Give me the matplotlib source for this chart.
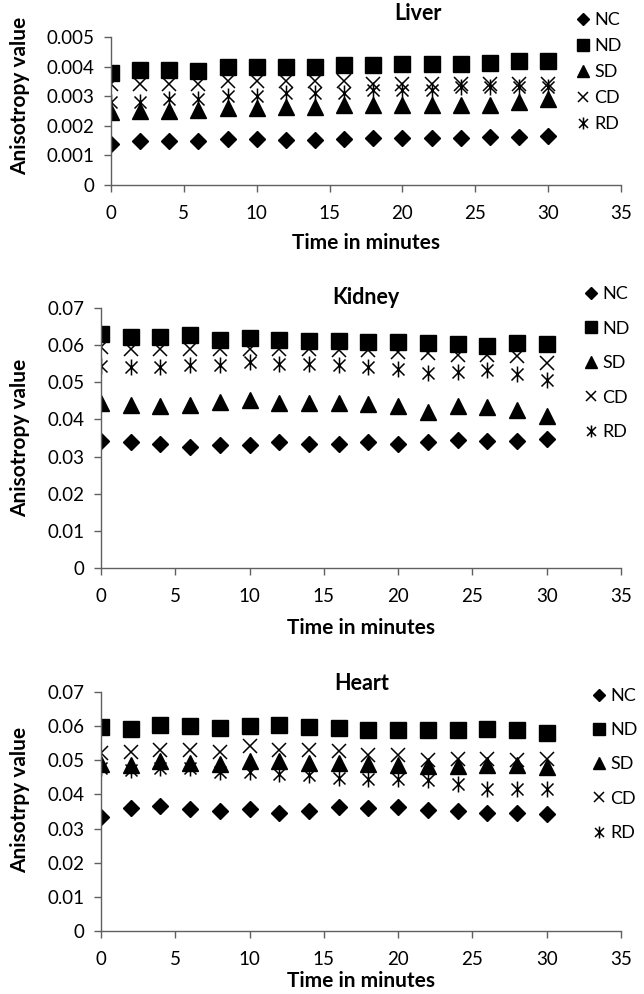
import matplotlib
matplotlib.use('Agg')
import matplotlib.pyplot as plt
from matplotlib.path import Path

plt.rcParams['font.family'] = ['Lato', 'DejaVu Sans']

# time points (minutes)
minutes = [0, 2, 4, 6, 8, 10, 12, 14, 16, 18, 20, 22, 24, 26, 28, 30]
groups = ['NC', 'ND', 'SD', 'CD', 'RD']

# Liver anisotropy
liver_nc = [0.0014, 0.00147, 0.0015, 0.0015, 0.00157, 0.00157, 0.00153, 0.00153,
            0.00157, 0.00158, 0.00158, 0.0016, 0.0016, 0.00162, 0.00162, 0.00165]
liver_nd = [0.0038, 0.0039, 0.0039, 0.00385, 0.004, 0.004, 0.004, 0.004,
            0.00405, 0.00405, 0.00408, 0.0041, 0.0041, 0.00412, 0.0042, 0.0042]
liver_sd = [0.00245, 0.0025, 0.0025, 0.00255, 0.0026, 0.0026, 0.00265, 0.00265,
            0.0027, 0.0027, 0.0027, 0.0027, 0.0027, 0.0027, 0.0028, 0.0029]
liver_cd = [0.0034, 0.0034, 0.0034, 0.0034, 0.0035, 0.0035, 0.0035, 0.0035,
            0.0035, 0.0034, 0.0034, 0.0034, 0.0034, 0.0034, 0.0034, 0.0034]
liver_rd = [0.0028, 0.0028, 0.0029, 0.0029, 0.003, 0.003, 0.0031, 0.0031,
            0.0031, 0.0032, 0.0032, 0.0032, 0.0033, 0.0033, 0.0033, 0.0033]

# Kidney anisotropy
kidney_nc = [0.0343, 0.0339, 0.0334, 0.0327, 0.0331, 0.0331, 0.0339, 0.0334,
             0.0334, 0.0339, 0.0334, 0.034, 0.0345, 0.0342, 0.0342, 0.0348]
kidney_nd = [0.063, 0.0623, 0.0623, 0.0627, 0.0615, 0.0618, 0.0615, 0.0612,
             0.0612, 0.0609, 0.0609, 0.0606, 0.0603, 0.0598, 0.0605, 0.0602]
kidney_sd = [0.0443, 0.0439, 0.0436, 0.0439, 0.0448, 0.0452, 0.0445, 0.0445,
             0.0443, 0.0442, 0.0437, 0.0421, 0.0437, 0.0433, 0.0425, 0.041]
kidney_cd = [0.0595, 0.059, 0.059, 0.059, 0.0589, 0.0589, 0.0589, 0.0589,
             0.0587, 0.0587, 0.0582, 0.0578, 0.0573, 0.0573, 0.057, 0.0551]
kidney_rd = [0.0544, 0.0541, 0.0541, 0.0546, 0.0546, 0.0555, 0.0549, 0.0549,
             0.0546, 0.0541, 0.0537, 0.0525, 0.0528, 0.0532, 0.0521, 0.0506]

# Heart anisotropy
heart_nc = [0.0334, 0.036, 0.0366, 0.0357, 0.0351, 0.0357, 0.0347, 0.0351,
            0.0362, 0.0359, 0.0363, 0.0354, 0.0352, 0.0346, 0.0346, 0.0344]
heart_nd = [0.0597, 0.0593, 0.0602, 0.0599, 0.0596, 0.0599, 0.0602, 0.0597,
            0.0594, 0.059, 0.059, 0.0588, 0.0588, 0.0593, 0.0588, 0.0581]
heart_sd = [0.049, 0.0487, 0.0497, 0.0493, 0.049, 0.0497, 0.0497, 0.0493,
            0.0492, 0.049, 0.0485, 0.0482, 0.0482, 0.0487, 0.0485, 0.0479]
heart_cd = [0.052, 0.0524, 0.0529, 0.0531, 0.0524, 0.0541, 0.0531, 0.0529,
            0.0527, 0.0515, 0.0515, 0.05, 0.0505, 0.0505, 0.05, 0.0505]
heart_rd = [0.0476, 0.0471, 0.0476, 0.0476, 0.0466, 0.0466, 0.0461, 0.0456,
            0.0448, 0.0446, 0.0446, 0.0442, 0.0432, 0.0417, 0.0417, 0.0417]

x_ticks = [0, 5, 10, 15, 20, 25, 30, 35]
liver_yticks = [0, 0.001, 0.002, 0.003, 0.004, 0.005]
liver_ylabels = ['0', '0.001', '0.002', '0.003', '0.004', '0.005']
organ_yticks = [0, 0.01, 0.02, 0.03, 0.04, 0.05, 0.06, 0.07]
organ_ylabels = ['0', '0.01', '0.02', '0.03', '0.04', '0.05', '0.06', '0.07']

# asterisk marker for RD: vertical bar plus an X
asterisk = Path([(0, -1), (0, 1), (-0.75, -0.75), (0.75, 0.75), (-0.75, 0.75), (0.75, -0.75)],
                [Path.MOVETO, Path.LINETO, Path.MOVETO, Path.LINETO, Path.MOVETO, Path.LINETO])

styles = {
    'NC': dict(marker='D', markersize=8.5, color='black'),
    'ND': dict(marker='s', markersize=11, color='black'),
    'SD': dict(marker='^', markersize=11.5, color='black'),
    'CD': dict(marker='x', markersize=10.5, color='black', markeredgewidth=1.1),
    'RD': dict(marker=asterisk, markersize=11.5, color='black', markeredgewidth=1.1),
}

W, H = 644, 994
fig = plt.figure(figsize=(W / 100, H / 100), dpi=100)


def panel(box, series, yticks, ylabels, title, title_xy, ylabel, ylabel_y,
          legend_xy, legend_space, xlabel_pad):
    left, top, right, bottom = box
    ax = fig.add_axes([left / W, 1 - bottom / H, (right - left) / W, (bottom - top) / H])
    for g, vals in zip(groups, series):
        ax.plot(minutes, vals, linestyle='none', label=g, **styles[g])
    ax.set_xlim(0, 35)
    ax.set_ylim(yticks[0], yticks[-1])
    ax.set_xticks(x_ticks)
    ax.set_yticks(yticks)
    ax.set_yticklabels(ylabels)
    for s in ['top', 'right']:
        ax.spines[s].set_visible(False)
    for s in ['left', 'bottom']:
        ax.spines[s].set_color('#606060')
        ax.spines[s].set_linewidth(1.0)
    ax.tick_params(axis='both', direction='out', length=5, width=1, color='#606060',
                   labelsize=13.5, labelcolor='black')
    ax.tick_params(axis='x', pad=9.5)
    ax.tick_params(axis='y', pad=7)
    ax.set_xlabel('Time in minutes', fontsize=15, fontweight='bold', labelpad=xlabel_pad)
    ax.set_ylabel(ylabel, fontsize=15, fontweight='bold')
    ax.yaxis.set_label_coords((30 - left) / (right - left), ylabel_y)
    fig.text(title_xy[0] / W, 1 - title_xy[1] / H, title, fontsize=15.5, fontweight='bold',
             ha='center', va='center')
    ax.legend(loc='upper left', bbox_to_anchor=(legend_xy[0] / W, 1 - legend_xy[1] / H),
              bbox_transform=fig.transFigure, frameon=False, fontsize=13,
              handlelength=0.8, handletextpad=0.2, labelspacing=legend_space,
              borderpad=0, borderaxespad=0, markerscale=0.75)
    return ax


panel((111, 37, 621, 185), [liver_nc, liver_nd, liver_sd, liver_cd, liver_rd],
      liver_yticks, liver_ylabels, 'Liver', (418, 14), 'Anisotropy value', 0.6,
      (576, 12), 0.56, 8)
panel((101, 308, 621, 568), [kidney_nc, kidney_nd, kidney_sd, kidney_cd, kidney_rd],
      organ_yticks, organ_ylabels, 'Kidney', (366, 297), 'Anisotropy value', 0.5,
      (584, 286), 1.03, 9)
panel((101, 692, 621, 931), [heart_nc, heart_nd, heart_sd, heart_cd, heart_rd],
      organ_yticks, organ_ylabels, 'Heart', (362, 683), 'Anisotrpy value', 0.55,
      (592, 688), 1.01, 2)

fig.savefig('out.png', dpi=100)
